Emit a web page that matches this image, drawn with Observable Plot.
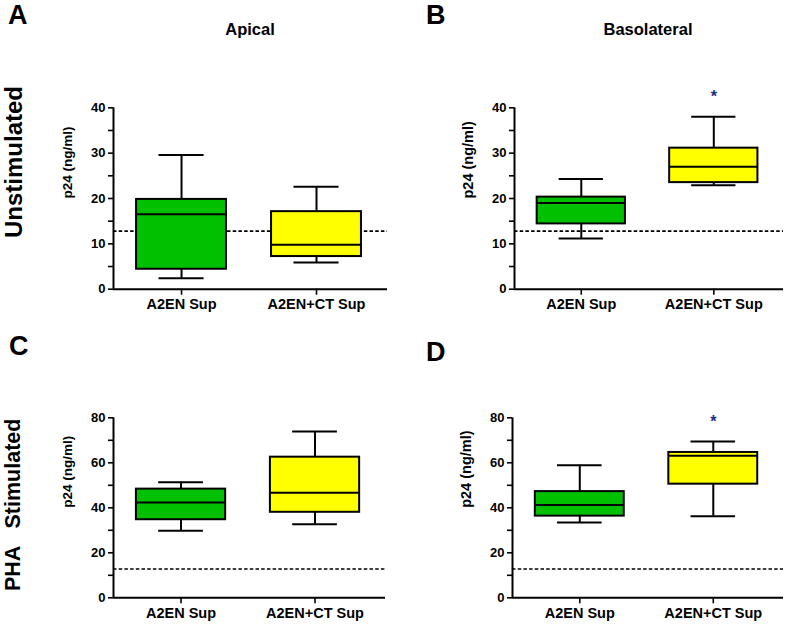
<!DOCTYPE html>
<html>
<head>
<meta charset="utf-8">
<script src="https://cdn.jsdelivr.net/npm/d3@7"></script>
<script src="https://cdn.jsdelivr.net/npm/@observablehq/plot@0.6"></script>
<style>
  html, body { margin: 0; padding: 0; background: #fff; }
  #root { position: relative; width: 789px; height: 626px; overflow: hidden; font-family: "Liberation Sans", Arial, sans-serif; font-weight: bold; color: #000; }
  .abs { position: absolute; white-space: pre; line-height: 1; }
  .letter { font-size: 27px; }
  .coltitle { font-size: 16.5px; transform: translateX(-50%); }
  .rowlab { transform-origin: 0 0; }
</style>
</head>
<body>
<div id="root"></div>
<script>
// ---- data ----
const groups = ["A2EN Sup", "A2EN+CT Sup"];
const groupColors = ["#00c000", "#ffff00"];
// per group: [whisker low, Q1, median, Q3, whisker high]
const panelA = [[2.4, 4.4, 16.5, 19.8, 29.6], [5.9, 7.2, 9.8, 17.1, 22.6]];
const panelB = [[11.2, 14.4, 19.0, 20.3, 24.3], [22.9, 23.5, 27.0, 31.1, 38.0]];
const panelC = [[29.8, 34.7, 42.4, 48.3, 51.4], [32.7, 38.0, 46.7, 62.5, 73.9]];
const panelD = [[33.5, 36.3, 41.2, 47.2, 58.9], [36.3, 50.5, 63.1, 64.6, 69.5]];
const cutoff = 12.8;           // dashed detection line
const starB = [43.2];          // asterisk height, panel B (CT group)
const starD = [80.0];          // asterisk height, panel D (CT group)
const yMaxTop = 40, yMaxBottom = 80;
const ticksTop = d3.range(0, 45, 5), ticksBottom = d3.range(0, 90, 10);
const panelLetters = ["A", "B", "C", "D"];
const colTitles = ["Apical", "Basolateral"];
const rowTitles = ["Unstimulated", "PHA   Stimulated"];
const yLabel = "p24 (ng/ml)";

const root = document.getElementById("root");

function rowsOf(p) {
  return p.map((v, i) => ({x: i + 1, group: groups[i], color: groupColors[i],
    lo: v[0], q1: v[1], med: v[2], q3: v[3], hi: v[4]}));
}

function panel({values, yMax, ticks, labelEvery, star, left, top, width, height, mL, mR, mT, mB, ylabSize}) {
  const rows = rowsOf(values);
  const hw = 0.333, cw = 0.167;
  const marks = [
    Plot.ruleY([cutoff], {stroke: "#000", strokeWidth: 1.6, strokeDasharray: "3.5,2.2"}),
    Plot.ruleX(rows, {x: "x", y1: "lo", y2: "hi", stroke: "#000", strokeWidth: 2}),
    Plot.ruleY(rows, {y: "lo", x1: d => d.x - cw, x2: d => d.x + cw, stroke: "#000", strokeWidth: 2}),
    Plot.ruleY(rows, {y: "hi", x1: d => d.x - cw, x2: d => d.x + cw, stroke: "#000", strokeWidth: 2}),
    Plot.rect(rows, {x1: d => d.x - hw, x2: d => d.x + hw, y1: "q1", y2: "q3", fill: "color", stroke: "#000", strokeWidth: 2}),
    Plot.ruleY(rows, {y: "med", x1: d => d.x - hw, x2: d => d.x + hw, stroke: "#000", strokeWidth: 2}),
    Plot.ruleX([0.496], {y1: 0, y2: yMax, stroke: "#000", strokeWidth: 2}),
    Plot.ruleY([0], {stroke: "#000", strokeWidth: 2}),
    Plot.axisY({ticks, tickFormat: d => d % labelEvery === 0 ? d : "", tickSize: 5, tickPadding: 3,
      strokeWidth: 1.6, fontSize: 13, fontWeight: "bold", label: null}),
    Plot.axisX({ticks: [1, 2], tickFormat: i => groups[i - 1], tickSize: 6, tickPadding: 4,
      strokeWidth: 1.6, fontSize: 14.5, fontWeight: "bold", label: null}),
    Plot.text([yLabel], {frameAnchor: "left", dx: -46, rotate: -90, fontSize: ylabSize, fontWeight: "bold", fill: "#000"})
  ];
  if (star) marks.push(Plot.text(star, {x: 2, y: d => d, text: () => "*", fill: "#1c2a8c", fontSize: 16, fontWeight: "bold", dy: 4}));
  const svg = Plot.plot({
    width, height, marginLeft: mL, marginRight: mR, marginTop: mT, marginBottom: mB,
    x: {type: "linear", domain: [0.496, 2.526]},
    y: {domain: [0, yMax]},
    style: {background: "transparent", overflow: "visible", fontFamily: "Liberation Sans, Arial, sans-serif", color: "#000"},
    marks
  });
  svg.style.position = "absolute";
  svg.style.left = left + "px";
  svg.style.top = top + "px";
  root.appendChild(svg);
}

panel({values: panelA, yMax: yMaxTop, ticks: ticksTop, labelEvery: 10, star: null,
  left: 0, top: 0, width: 395, height: 310, mL: 113, mR: 8, mT: 107.3, mB: 21.3, ylabSize: 13.5});
panel({values: panelB, yMax: yMaxTop, ticks: ticksTop, labelEvery: 10, star: starB,
  left: 395, top: 0, width: 394, height: 310, mL: 119, mR: 6, mT: 107.3, mB: 21.3, ylabSize: 14.5});
panel({values: panelC, yMax: yMaxBottom, ticks: ticksBottom, labelEvery: 20, star: null,
  left: 0, top: 310, width: 395, height: 316, mL: 113, mR: 10, mT: 107.3, mB: 28.7, ylabSize: 13.5});
panel({values: panelD, yMax: yMaxBottom, ticks: ticksBottom, labelEvery: 20, star: starD,
  left: 395, top: 310, width: 394, height: 316, mL: 117, mR: 6, mT: 107.3, mB: 28.7, ylabSize: 14.5});

// ---- text labels ----
function addText(txt, cls, x, y, extra) {
  const d = document.createElement("div");
  d.className = "abs " + cls;
  d.textContent = txt;
  d.style.left = x + "px";
  d.style.top = y + "px";
  if (extra) Object.assign(d.style, extra);
  root.appendChild(d);
  return d;
}
addText(panelLetters[0], "letter", 8, 2);
addText(panelLetters[1], "letter", 426, 2);
addText(panelLetters[2], "letter", 9, 333);
addText(panelLetters[3], "letter", 426, 339);
addText(colTitles[0], "coltitle", 250, 21);
addText(colTitles[1], "coltitle", 648, 21);
// rotated row titles
const r1 = addText(rowTitles[0], "rowlab", 0, 0, {fontSize: "24px"});
const r2 = addText(rowTitles[1], "rowlab", 0, 0, {fontSize: "21.5px"});
function placeRot(el, cx, cy) {
  const w = el.offsetWidth, h = el.offsetHeight;
  el.style.left = (cx - h / 2) + "px";
  el.style.top = (cy + w / 2) + "px";
  el.style.transform = "rotate(-90deg)";
}
placeRot(r1, 14, 162);
placeRot(r2, 14, 505);
</script>
</body>
</html>
